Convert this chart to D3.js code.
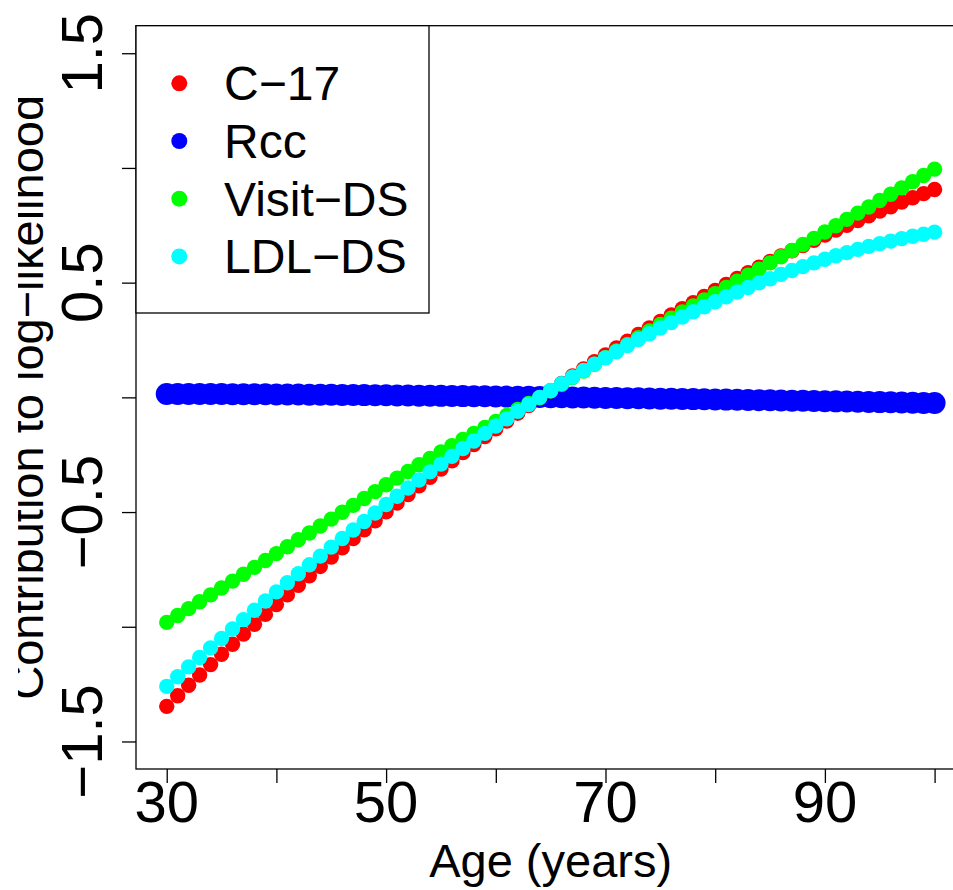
<!DOCTYPE html>
<html>
<head>
<meta charset="utf-8">
<script src="https://cdn.jsdelivr.net/npm/d3@7"></script>
<style>
  html, body { margin: 0; padding: 0; background: #fff; }
  svg { display: block; }
  text { font-family: "Liberation Sans", Arial, Helvetica, sans-serif; fill: #000; }
</style>
</head>
<body>
<script>
// ---------------- data ----------------
const ages = [30,31,32,33,34,35,36,37,38,39,40,41,42,43,44,45,46,47,48,49,50,
  51,52,53,54,55,56,57,58,59,60,61,62,63,64,65,66,67,68,69,70,
  71,72,73,74,75,76,77,78,79,80,81,82,83,84,85,86,87,88,89,90,
  91,92,93,94,95,96,97,98,99,100];

const c17 = [-1.347,-1.301,-1.255,-1.210,-1.165,-1.120,-1.076,-1.032,-0.989,-0.946,
  -0.903,-0.861,-0.819,-0.778,-0.737,-0.696,-0.656,-0.616,-0.577,-0.538,
  -0.499,-0.461,-0.424,-0.386,-0.349,-0.313,-0.277,-0.241,-0.206,-0.171,
  -0.137,-0.103,-0.069,-0.036,-0.003,0.029,0.061,0.093,0.124,0.155,
  0.185,0.215,0.245,0.274,0.303,0.331,0.359,0.386,0.413,0.440,
  0.466,0.492,0.518,0.543,0.567,0.592,0.616,0.639,0.662,0.685,
  0.707,0.729,0.750,0.771,0.791,0.812,0.831,0.851,0.870,0.888,0.906];

const rcc = [0.0150,0.0149,0.0148,0.0147,0.0145,0.0143,0.0140,0.0138,0.0135,0.0131,
  0.0128,0.0125,0.0122,0.0118,0.0114,0.0110,0.0106,0.0102,0.0098,0.0094,
  0.0089,0.0085,0.0080,0.0075,0.0070,0.0065,0.0059,0.0054,0.0049,0.0044,
  0.0038,0.0032,0.0026,0.0021,0.0015,0.0008,0.0002,-0.0004,-0.0010,-0.0017,
  -0.0023,-0.0030,-0.0036,-0.0043,-0.0049,-0.0056,-0.0063,-0.0070,-0.0077,-0.0084,
  -0.0091,-0.0099,-0.0106,-0.0114,-0.0121,-0.0129,-0.0136,-0.0144,-0.0152,-0.0160,
  -0.0167,-0.0175,-0.0183,-0.0192,-0.0200,-0.0208,-0.0216,-0.0225,-0.0233,-0.0242,-0.0250];

const visitDS = [-0.981,-0.951,-0.921,-0.891,-0.861,-0.831,-0.801,-0.771,-0.741,-0.711,
  -0.681,-0.651,-0.621,-0.591,-0.561,-0.531,-0.501,-0.471,-0.441,-0.411,
  -0.381,-0.352,-0.323,-0.294,-0.266,-0.238,-0.211,-0.184,-0.157,-0.131,
  -0.105,-0.079,-0.053,-0.027,-0.001,0.028,0.057,0.086,0.115,0.144,
  0.173,0.202,0.231,0.260,0.289,0.318,0.345,0.372,0.398,0.425,
  0.452,0.479,0.506,0.532,0.559,0.586,0.613,0.640,0.666,0.693,
  0.721,0.748,0.776,0.803,0.830,0.858,0.885,0.913,0.940,0.967,0.995];

const ldlDS = [-1.260,-1.218,-1.175,-1.134,-1.092,-1.051,-1.010,-0.969,-0.928,-0.888,
  -0.848,-0.808,-0.769,-0.730,-0.692,-0.653,-0.615,-0.578,-0.541,-0.504,
  -0.467,-0.431,-0.395,-0.360,-0.325,-0.291,-0.257,-0.223,-0.190,-0.157,
  -0.125,-0.093,-0.061,-0.031,0.000,0.030,0.060,0.089,0.117,0.145,
  0.172,0.199,0.226,0.252,0.277,0.302,0.326,0.350,0.373,0.395,
  0.417,0.438,0.459,0.479,0.499,0.517,0.536,0.553,0.570,0.586,
  0.602,0.617,0.631,0.645,0.658,0.670,0.681,0.692,0.702,0.711,0.720];

const seriesNames = ["C\u221217", "Rcc", "Visit\u2212DS", "LDL\u2212DS"];
const seriesColors = ["#ff0000", "#0000ff", "#00ff00", "#00ffff"];
const seriesValues = [c17, rcc, visitDS, ldlDS];

const xTicks = [30,40,50,60,70,80,90,100];
const xTickLabels = ["30","","50","","70","","90",""];
const yTicks = [-1.5,-1,-0.5,0,0.5,1,1.5];
const yTickLabels = ["\u22121.5","","\u22120.5","","0.5","","1.5"];

const xTitle = "Age (years)";
const yTitle = "Contribution to log\u2212likelihood";

// ---------------- layout ----------------
const W = 953, H = 890;
const plotL = 136, plotT = 25.7, plotR = 965.3, plotB = 769;

const svg = d3.select("body").append("svg").attr("width", W).attr("height", H);

const x = d3.scaleLinear().domain([27.2, 102.8]).range([plotL, plotR]);
const y = d3.scaleLinear().domain([-1.62, 1.62]).range([plotB, plotT]);

// points: draw order blue, red, green, cyan
const drawOrder = [1, 0, 2, 3];
const radii = [7.7, 11, 7.7, 7.7];
drawOrder.forEach(si => {
  svg.append("g").selectAll("circle")
    .data(ages.map((a, i) => ({a, v: seriesValues[si][i]})))
    .join("circle")
    .attr("cx", d => x(d.a))
    .attr("cy", d => y(d.v))
    .attr("r", radii[si])
    .attr("fill", seriesColors[si]);
});

// box
svg.append("rect")
  .attr("x", plotL).attr("y", plotT)
  .attr("width", plotR - plotL).attr("height", plotB - plotT)
  .attr("fill", "none").attr("stroke", "#000").attr("stroke-width", 1.3);

// y axis
const yAxisG = svg.append("g").attr("transform", `translate(${plotL},0)`)
  .call(d3.axisLeft(y).tickValues(yTicks).tickSize(14).tickFormat(""));
yAxisG.select(".domain").remove();
yAxisG.selectAll(".tick line").attr("stroke", "#000").attr("stroke-width", 1.3);
yTicks.forEach((t, i) => {
  if (!yTickLabels[i]) return;
  svg.append("text")
    .attr("transform", `translate(102,${y(t)}) rotate(-90)`)
    .attr("text-anchor", "middle")
    .style("font-size", "58px")
    .text(yTickLabels[i]);
});

// x axis
const xAxisG = svg.append("g").attr("transform", `translate(0,${plotB})`)
  .call(d3.axisBottom(x).tickValues(xTicks).tickSize(14).tickFormat(""));
xAxisG.select(".domain").remove();
xAxisG.selectAll(".tick line").attr("stroke", "#000").attr("stroke-width", 1.3);
xTicks.forEach((t, i) => {
  if (!xTickLabels[i]) return;
  svg.append("text")
    .attr("x", x(t)).attr("y", 822)
    .attr("text-anchor", "middle")
    .style("font-size", "58px")
    .text(xTickLabels[i]);
});

// axis titles
svg.append("text")
  .attr("x", (plotL + plotR) / 2).attr("y", 877)
  .attr("text-anchor", "middle")
  .style("font-size", "47px")
  .text(xTitle);

svg.append("defs").append("clipPath").attr("id", "ylabclip")
  .append("rect").attr("x", 18).attr("y", 0).attr("width", 100).attr("height", H);
svg.append("g").attr("clip-path", "url(#ylabclip)")
  .append("text")
  .attr("transform", `translate(43,${(plotT + plotB) / 2}) rotate(-90)`)
  .attr("text-anchor", "middle")
  .style("font-size", "47px")
  .text(yTitle);

// legend
const leg = svg.append("g");
leg.append("rect")
  .attr("x", plotL).attr("y", plotT)
  .attr("width", 293).attr("height", 287.3)
  .attr("fill", "#fff").attr("stroke", "#000").attr("stroke-width", 1.3);
seriesNames.forEach((name, i) => {
  const cy = 83.3 + i * 57.7;
  leg.append("circle").attr("cx", 179.3).attr("cy", cy).attr("r", 8).attr("fill", seriesColors[i]);
  leg.append("text").attr("x", 224).attr("y", cy + 17)
    .style("font-size", "48px").text(name);
});
</script>
</body>
</html>
